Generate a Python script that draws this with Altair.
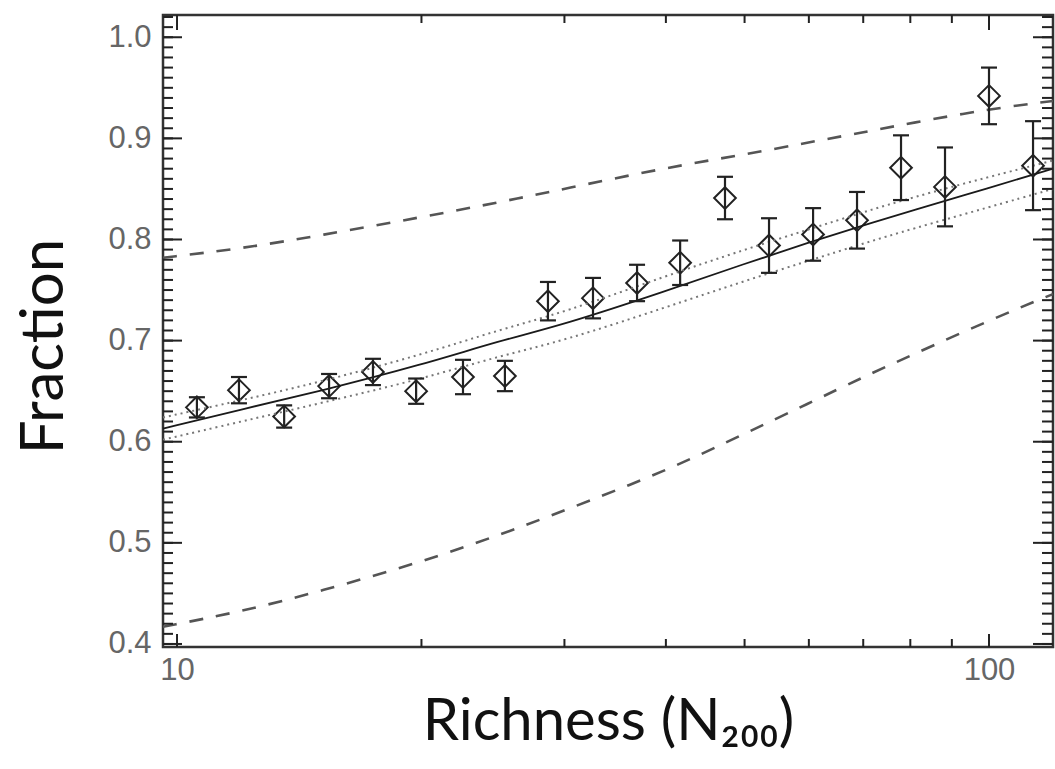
import altair as alt
import pandas as pd

# ---- data ----
richness = [10.58, 11.92, 13.55, 15.39, 17.43, 19.70, 22.50, 25.34, 28.63, 32.53,
            36.86, 41.65, 47.30, 53.59, 60.72, 68.78, 77.92, 88.27, 100.0, 113.3]
fraction = [0.634, 0.651, 0.625, 0.655, 0.669, 0.650, 0.664, 0.665, 0.739, 0.742,
            0.757, 0.777, 0.841, 0.794, 0.805, 0.819, 0.871, 0.852, 0.942, 0.873]
frac_err = [0.010, 0.013, 0.011, 0.012, 0.013, 0.0125, 0.017, 0.015, 0.019, 0.020,
            0.018, 0.022, 0.021, 0.027, 0.026, 0.028, 0.032, 0.039, 0.028, 0.044]

curve_x = [9.61, 12, 15, 20, 25, 30, 40, 50, 60, 70, 80, 100, 119.9]
fit_mid = [0.613, 0.632, 0.650, 0.676, 0.700, 0.716, 0.749, 0.776, 0.797, 0.814, 0.828, 0.851, 0.870]
fit_hi = [0.624, 0.641, 0.659, 0.686, 0.711, 0.728, 0.764, 0.790, 0.810, 0.827, 0.841, 0.862, 0.878]
fit_lo = [0.602, 0.620, 0.638, 0.662, 0.685, 0.700, 0.733, 0.759, 0.779, 0.796, 0.810, 0.832, 0.850]
env_hi = [0.782, 0.791, 0.804, 0.822, 0.837, 0.850, 0.871, 0.884, 0.896, 0.906, 0.915, 0.929, 0.937]
env_lo = [0.417, 0.432, 0.452, 0.481, 0.508, 0.532, 0.571, 0.608, 0.638, 0.664, 0.685, 0.720, 0.746]

y_major = [0.4, 0.5, 0.6, 0.7, 0.8, 0.9, 1.0]
y_minor = [round(0.40 + 0.01 * i, 2) for i in range(63)]
x_major = [10, 100]
x_minor = [20, 30, 40, 50, 60, 70, 80, 90]

X_DOMAIN = [9.61, 119.9]
Y_DOMAIN = [0.397, 1.022]
W, H = 890, 632
INK = "#222222"

pts = pd.DataFrame({"N": richness, "f": fraction,
                    "lo": [a - b for a, b in zip(fraction, frac_err)],
                    "hi": [a + b for a, b in zip(fraction, frac_err)]})
curves = pd.DataFrame({"N": curve_x, "mid": fit_mid, "hi": fit_hi, "lo": fit_lo,
                       "ehi": env_hi, "elo": env_lo})

xs = alt.Scale(type="log", domain=X_DOMAIN, nice=False, zero=False)
ys = alt.Scale(domain=Y_DOMAIN, nice=False, zero=False)

x_axis = alt.Axis(values=x_major, format="d", title="Richness (N₂₀₀)",
                  ticks=False, domain=False, grid=False,
                  labelFont="Liberation Sans", labelFontSize=31, labelColor="#666666",
                  labelPadding=8, labelFlush=False,
                  titleFont="Lato", titleFontSize=58, titleFontWeight="normal",
                  titleColor="#111111", titleBaseline="alphabetic", titleY=92)
y_axis = alt.Axis(values=y_major, format=".1f", title="Fraction",
                  ticks=False, domain=False, grid=False,
                  labelFont="Liberation Sans", labelFontSize=31, labelColor="#666666",
                  labelPadding=12, labelFlush=False,
                  titleFont="Lato", titleFontSize=60, titleFontWeight="normal",
                  titleColor="#111111", titleBaseline="alphabetic", titleAngle=270,
                  titleX=-101, titleY=331, titleAlign="center")


def X(field):
    return alt.X(field, scale=xs, axis=x_axis)


def Y(field):
    return alt.Y(field, scale=ys, axis=y_axis)


base_pts = alt.Chart(pts)

diamonds = base_pts.mark_point(shape="diamond", size=470, filled=False, opacity=1,
                               stroke=INK, strokeWidth=2).encode(
    x=X("N:Q"), y=Y("f:Q"))

bars = base_pts.mark_rule(color=INK, strokeWidth=2.2).encode(
    x=X("N:Q"), y=Y("lo:Q"), y2="hi:Q")

cap_hi = base_pts.mark_tick(orient="horizontal", size=16, thickness=2.2, color=INK,
                            opacity=1).encode(x=X("N:Q"), y=Y("hi:Q"))
cap_lo = base_pts.mark_tick(orient="horizontal", size=16, thickness=2.2, color=INK,
                            opacity=1).encode(x=X("N:Q"), y=Y("lo:Q"))

base_c = alt.Chart(curves)


def curve(col, **kw):
    return base_c.mark_line(interpolate="basis", **kw).encode(
        x=X("N:Q"), y=Y(f"{col}:Q"))


solid = curve("mid", color="#1a1a1a", strokeWidth=1.8)
dot_hi = curve("hi", color="#777777", strokeWidth=2, strokeDash=[2, 4])
dot_lo = curve("lo", color="#777777", strokeWidth=2, strokeDash=[2, 4])
dash_hi = curve("ehi", color="#555555", strokeWidth=2.6, strokeDash=[14, 13])
dash_lo = curve("elo", color="#555555", strokeWidth=2.6, strokeDash=[14, 13])

# inward ticks on all four sides
ymin_df = pd.DataFrame({"v": y_minor})
ymaj_df = pd.DataFrame({"v": y_major})
xmin_df = pd.DataFrame({"v": x_minor})
xmaj_df = pd.DataFrame({"v": x_major})


def ytick(df, x0, x1):
    return alt.Chart(df).mark_rule(color=INK, strokeWidth=2).encode(
        y=Y("v:Q"), x=alt.value(x0), x2=alt.value(x1))


def xtick(df, y0, y1):
    return alt.Chart(df).mark_rule(color=INK, strokeWidth=2).encode(
        x=X("v:Q"), y=alt.value(y0), y2=alt.value(y1))


ticks = [
    ytick(ymin_df, 0, 10), ytick(ymaj_df, 0, 19),
    ytick(ymin_df, W, W - 11), ytick(ymaj_df, W, W - 20),
    xtick(xmin_df, H, H - 8), xtick(xmaj_df, H, H - 13),
    xtick(xmin_df, 0, 8), xtick(xmaj_df, 0, 15),
]

chart = alt.layer(
    diamonds, dash_hi, dash_lo, dot_hi, dot_lo, solid, bars, cap_hi, cap_lo, *ticks
).properties(
    width=W, height=H,
    autosize=alt.AutoSizeParams(type="none"),
    padding={"left": 163, "top": 15, "right": 2, "bottom": 122},
    background="white",
).configure_view(stroke="#333333", strokeWidth=2.5)

chart.save("out.html", embed_options={"renderer": "svg", "actions": False})
